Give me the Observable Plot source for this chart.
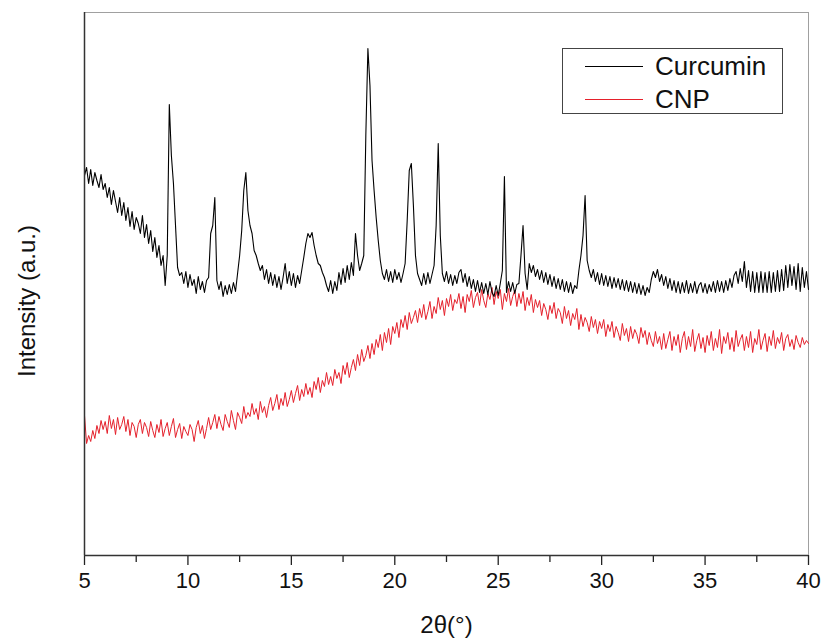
<!DOCTYPE html>
<html>
<head>
<meta charset="utf-8">
<script src="https://cdn.jsdelivr.net/npm/d3@7"></script>
<script src="https://cdn.jsdelivr.net/npm/@observablehq/plot@0.6"></script>
<style>
  html, body { margin: 0; padding: 0; background: #fff; }
  #wrap { position: relative; width: 821px; height: 641px; font-family: "Liberation Sans", Arial, sans-serif; }
  #legend { position: absolute; left: 562px; top: 48px; width: 221px; height: 66px; border: 1px solid #444; box-sizing: border-box; background: #fff; }
  .row { position: absolute; left: 22px; height: 30px; display: flex; align-items: center; }
  .row .swatch { width: 58px; height: 0; border-top: 1px solid; margin-right: 12px; }
  .row .lab { font-size: 26px; color: #111; line-height: 30px; }
</style>
</head>
<body>
<div id="wrap"><div id="legend"></div></div>
<script>
// 2θ sampling: start 5.0°, step 0.1°
const thetaStart = 5.0;
const thetaStep = 0.1;

// Curcumin intensity (a.u.), one row per degree (x.0 … x.9)
const curcumin = [
  380,388,372,386,370,383,375,368,381,366, // 5
  372,358,368,351,365,354,343,358,340,353, // 6
  335,348,329,344,326,338,332,322,340,318, // 7
  331,312,325,304,318,298,310,290,300,270, // 8
  300,451,400,372,330,288,280,283,272,284, // 9
  268,281,270,276,262,279,266,274,263,275, // 10
  278,322,330,358,275,266,274,259,270,261, // 11
  271,262,273,264,282,300,325,365,383,345, // 12
  330,322,305,300,292,285,290,276,286,272, // 13
  283,270,281,268,279,266,278,292,272,284, // 14
  270,282,268,280,272,285,298,312,322,318, // 15
  323,310,300,292,290,283,278,270,264,275, // 16
  262,274,265,283,271,287,273,290,276,293, // 17
  280,322,300,285,292,300,420,507,470,395, // 18
  365,338,315,295,282,276,286,274,284,273, // 19
  286,276,283,273,282,292,335,385,392,350, // 20
  300,282,276,270,282,271,283,272,281,290, // 21
  330,412,320,282,274,284,272,281,270,280, // 22
  272,283,286,273,282,269,279,267,276,264, // 23
  275,263,273,262,272,261,274,263,259,270, // 24
  260,272,285,379,263,274,264,273,262,271, // 25
  272,300,330,282,266,292,283,290,279,286, // 26
  276,285,273,283,271,281,269,279,267,277, // 27
  266,276,264,274,263,273,262,270,267,285, // 28
  300,320,360,295,285,278,286,274,283,271, // 29
  282,270,280,269,279,267,278,268,277,266, // 30
  276,265,275,264,274,263,273,262,272,261, // 31
  270,260,268,263,276,284,278,286,274,281, // 32
  270,279,267,277,265,275,263,274,262,273, // 33
  263,275,262,272,263,274,262,270,273,263, // 34
  272,262,271,264,274,263,275,264,274,263, // 35
  275,265,277,268,280,284,272,287,274,294, // 36
  268,285,264,284,263,283,263,284,263,283, // 37
  263,284,263,283,264,285,264,286,265,290, // 38
  268,291,270,289,266,292,264,288,268,284, // 39
  266                                      // 40
];

// CNP intensity (a.u.)
const cnp = [
  140,112,120,114,125,117,130,122,135,126, // 5
  134,122,140,127,136,121,138,126,131,139, // 6
  124,136,120,133,129,118,131,136,122,133, // 7
  128,119,134,125,118,131,123,136,119,127, // 8
  133,120,129,137,118,126,132,117,129,124, // 9
  120,131,126,114,128,135,122,130,117,127, // 10
  138,126,133,141,127,139,131,125,141,134, // 11
  128,145,135,126,143,138,132,149,137,143, // 12
  139,152,141,147,136,154,143,149,138,150, // 13
  158,145,152,161,146,157,150,163,149,156, // 14
  165,153,162,170,155,166,159,172,161,168, // 15
  158,174,166,178,163,175,169,183,171,179, // 16
  170,186,177,183,172,190,181,193,178,188, // 17
  196,185,201,190,206,194,200,210,197,212, // 18
  201,216,208,221,205,223,213,227,211,229, // 19
  222,233,218,236,228,240,226,243,232,238, // 20
  245,233,247,238,251,236,244,254,237,249, // 21
  242,258,246,255,240,257,249,261,245,256, // 22
  252,262,247,259,243,261,254,265,248,258, // 23
  263,250,266,255,248,262,256,268,251,264, // 24
  257,266,246,262,254,267,250,259,265,249, // 25
  262,252,264,245,258,250,261,243,256,248, // 26
  255,240,252,246,236,250,242,253,237,247, // 27
  243,232,249,237,245,230,242,236,247,226, // 28
  241,229,238,233,224,239,228,236,222,234, // 29
  227,236,219,231,224,234,218,229,223,215, // 30
  232,220,227,214,229,217,226,221,212,228, // 31
  218,225,211,223,215,209,224,212,219,206, // 32
  222,207,216,224,205,219,210,221,203,217, // 33
  224,206,219,209,226,204,215,222,207,218, // 34
  203,220,210,224,205,217,208,226,202,219, // 35
  212,223,206,218,204,225,209,216,221,205, // 36
  219,208,224,203,217,211,226,206,215,222, // 37
  204,219,210,225,207,218,212,223,205,217, // 38
  221,209,216,206,220,213,208,218,211,215, // 39
  212                                      // 40
];

const seriesNames = ["Curcumin", "CNP"];
const seriesColors = ["#000000", "#e5202b"];
const majorTicks = [5, 10, 15, 20, 25, 30, 35, 40];
const minorTicks = [7.5, 12.5, 17.5, 22.5, 27.5, 32.5, 37.5];
const xLabel = "2θ(°)";
const yLabel = "Intensity (a.u.)";

const toRows = (vals, name) => vals.map((v, i) => ({theta: +(thetaStart + i * thetaStep).toFixed(1), I: v, series: name}));
const curRows = toRows(curcumin, seriesNames[0]);
const cnpRows = toRows(cnp, seriesNames[1]);

const chart = Plot.plot({
  width: 821,
  height: 641,
  marginLeft: 84,
  marginRight: 13,
  marginTop: 12,
  marginBottom: 86,
  x: {domain: [5, 40]},
  y: {domain: [0, 543], axis: null},
  style: {fontFamily: "'Liberation Sans', Arial, sans-serif", background: "#fff", color: "#111"},
  marks: [
    Plot.frame({stroke: "#a0a0a0", strokeWidth: 1}),
    Plot.line(cnpRows, {x: "theta", y: "I", stroke: seriesColors[1], strokeWidth: 1}),
    Plot.line(curRows, {x: "theta", y: "I", stroke: seriesColors[0], strokeWidth: 1.1}),
    Plot.axisX(majorTicks, {tickSize: 10, tickPadding: 7, fontSize: 22, label: null, stroke: "#222", strokeWidth: 1.3, fill: "#111"}),
    Plot.axisX(minorTicks, {tickSize: 7, text: null, label: null, stroke: "#222", strokeWidth: 1.3}),
    Plot.ruleX([5], {stroke: "#333", strokeWidth: 1.5}),
    Plot.ruleY([0], {stroke: "#333", strokeWidth: 1.5}),
    Plot.text([xLabel], {frameAnchor: "bottom", dy: 77, text: d => d, fontSize: 24, fill: "#111"}),
    Plot.text([yLabel], {frameAnchor: "left", textAnchor: "middle", dx: -57, dy: 17, rotate: -90, text: d => d, fontSize: 24, fill: "#111"})
  ]
});
document.getElementById("wrap").prepend(chart);

const legend = document.getElementById("legend");
seriesNames.forEach((name, i) => {
  const row = document.createElement("div");
  row.className = "row";
  row.style.top = (2 + i * 33) + "px";
  const sw = document.createElement("div");
  sw.className = "swatch";
  sw.style.borderTopColor = seriesColors[i];
  const lab = document.createElement("span");
  lab.className = "lab";
  lab.textContent = name;
  row.append(sw, lab);
  legend.append(row);
});
</script>
</body>
</html>
